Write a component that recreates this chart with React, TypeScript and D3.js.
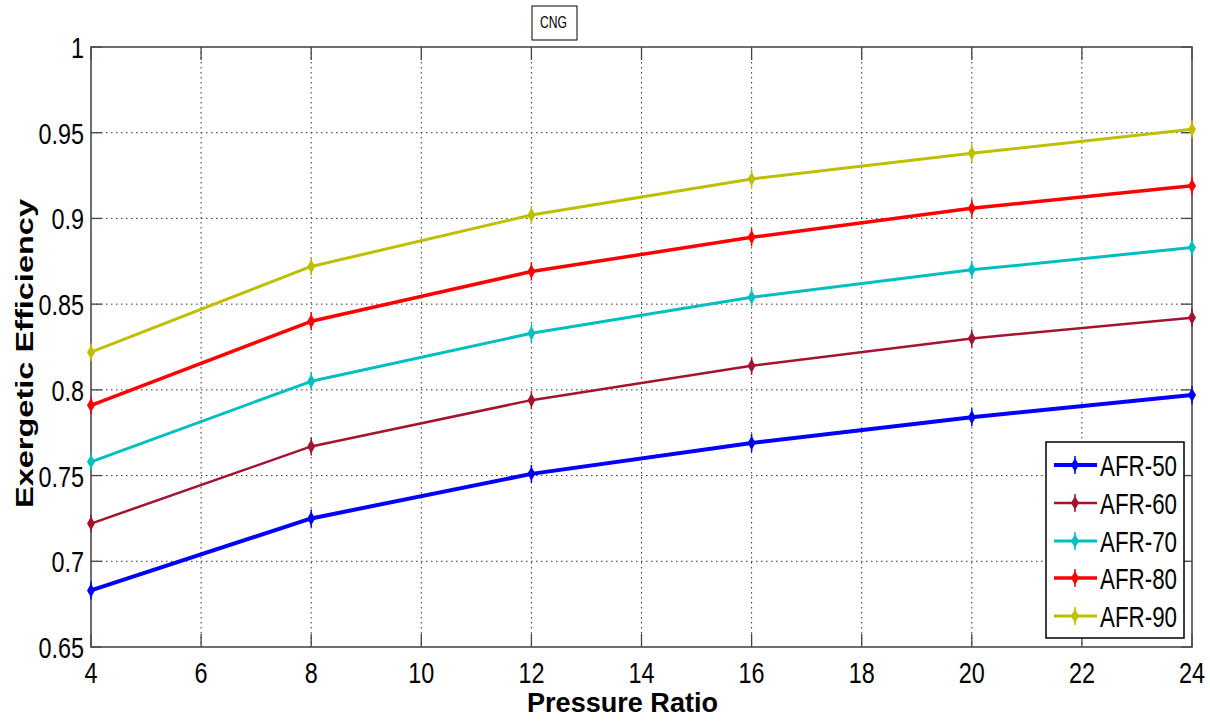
import React from "react";
import * as d3 from "d3";

const pressureRatio = [4, 8, 12, 16, 20, 24];
const afr50 = [0.683, 0.725, 0.751, 0.769, 0.784, 0.797];
const afr60 = [0.722, 0.767, 0.794, 0.814, 0.830, 0.842];
const afr70 = [0.758, 0.805, 0.833, 0.854, 0.870, 0.883];
const afr80 = [0.791, 0.840, 0.869, 0.889, 0.906, 0.919];
const afr90 = [0.822, 0.872, 0.902, 0.923, 0.938, 0.952];
const seriesNames = ["AFR-50", "AFR-60", "AFR-70", "AFR-80", "AFR-90"];
const seriesValues = [afr50, afr60, afr70, afr80, afr90];
const seriesColors = ["#0000FF", "#A2142F", "#00BFBF", "#FF0000", "#BFBF00"];
const seriesWidths = [4, 2.5, 3, 3.5, 3];
const xTicks = [4, 6, 8, 10, 12, 14, 16, 18, 20, 22, 24];
const yTicks = [0.65, 0.7, 0.75, 0.8, 0.85, 0.9, 0.95, 1];

const W = 1210, H = 725;
const L = 91, R = 1192, T = 47, B = 647;

export default function App() {
  const x = d3.scaleLinear().domain([4, 24]).range([L, R]);
  const y = d3.scaleLinear().domain([0.65, 1]).range([B, T]);
  const line = d3.line<number>().x((_, i) => x(pressureRatio[i])).y((v) => y(v));
  const font = "'Liberation Sans', Arial, sans-serif";
  const marker = (cx: number, cy: number, c: string, k: string) => (
    <g key={k}>
      <path d={`M${cx},${cy - 7} L${cx + 4},${cy} L${cx},${cy + 7} L${cx - 4},${cy} Z`} fill={c} />
      <line x1={cx} x2={cx} y1={cy - 9} y2={cy + 9} stroke={c} strokeWidth={1.5} />
    </g>
  );
  const legX = 1046, legY = 442, legW = 138, legH = 196;
  const legRows = [465, 503, 541, 578, 616];
  return (
    <svg width={W} height={H} style={{ position: "absolute", left: 0, top: 0, background: "#fff" }} fontFamily={font}>
      <rect x={0} y={0} width={W} height={H} fill="#fff" />
      {xTicks.filter((t) => t !== 4 && t !== 24).map((t) => (
        <line key={"gx" + t} x1={x(t)} x2={x(t)} y1={T} y2={B} stroke="#333" strokeWidth={1} strokeDasharray="1.5,3.5" />
      ))}
      {yTicks.filter((t) => t !== 0.65 && t !== 1).map((t) => (
        <line key={"gy" + t} x1={L} x2={R} y1={y(t)} y2={y(t)} stroke="#333" strokeWidth={1} strokeDasharray="1.5,3.5" />
      ))}
      {xTicks.map((t) => (
        <g key={"tx" + t}>
          <line x1={x(t)} x2={x(t)} y1={B} y2={B - 13} stroke="#444" strokeWidth={1.3} />
          <line x1={x(t)} x2={x(t)} y1={T} y2={T + 13} stroke="#444" strokeWidth={1.3} />
          <text x={0} y={0} transform={`translate(${x(t)},683) scale(0.78,1)`} textAnchor="middle" fontSize={30} fill="#000">{t}</text>
        </g>
      ))}
      {yTicks.map((t) => (
        <g key={"ty" + t}>
          <line x1={L} x2={L + 11} y1={y(t)} y2={y(t)} stroke="#444" strokeWidth={1.3} />
          <line x1={R} x2={R - 11} y1={y(t)} y2={y(t)} stroke="#444" strokeWidth={1.3} />
          <text x={0} y={0} transform={`translate(84,${y(t) + 11}) scale(0.78,1)`} textAnchor="end" fontSize={30} fill="#000">{d3.format("")(+t.toFixed(2))}</text>
        </g>
      ))}
      <rect x={L} y={T} width={R - L} height={B - T} fill="none" stroke="#4a4a4a" strokeWidth={1.6} />
      {seriesValues.map((vals, si) => (
        <g key={"s" + si}>
          <path d={line(vals) || ""} fill="none" stroke={seriesColors[si]} strokeWidth={seriesWidths[si]} strokeLinejoin="round" />
          {vals.map((v, i) => marker(x(pressureRatio[i]), y(v), seriesColors[si], `m${si}-${i}`))}
        </g>
      ))}
      <rect x={legX} y={legY} width={legW} height={legH} fill="#fff" stroke="#000" strokeWidth={1.5} />
      {seriesNames.map((n, i) => (
        <g key={"l" + i}>
          <line x1={1054} x2={1097} y1={legRows[i]} y2={legRows[i]} stroke={seriesColors[i]} strokeWidth={seriesWidths[i]} />
          {marker(1075, legRows[i], seriesColors[i], "lm" + i)}
          <text x={1100} y={legRows[i] + 11} fontSize={30} textLength={77} lengthAdjust="spacingAndGlyphs" fill="#000">{n}</text>
        </g>
      ))}
      <rect x={532} y={6} width={45} height={34} fill="#fff" stroke="#000" strokeWidth={1} />
      <text x={540} y={28} fontSize={16} textLength={27} lengthAdjust="spacingAndGlyphs" fill="#000">CNG</text>
      <text x={527} y={712} fontSize={27} fontWeight="bold" textLength={191} lengthAdjust="spacingAndGlyphs" fill="#000">Pressure Ratio</text>
      <text x={0} y={0} transform="translate(33,508) rotate(-90)" fontSize={24} fontWeight="bold" textLength={309} lengthAdjust="spacingAndGlyphs" fill="#000">Exergetic Efficiency</text>
    </svg>
  );
}
